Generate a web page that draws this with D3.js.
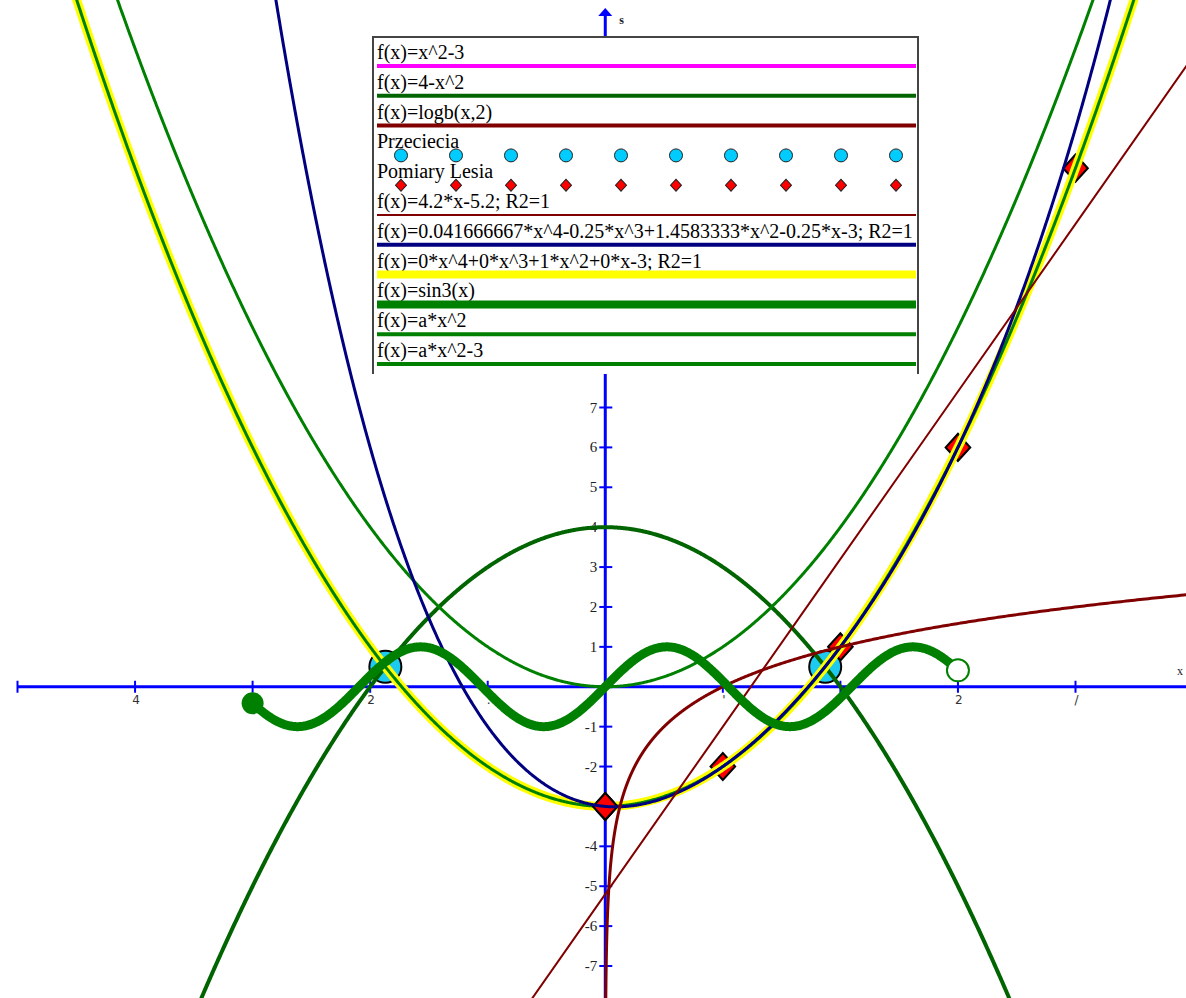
<!DOCTYPE html>
<html>
<head>
<meta charset="utf-8">
<script src="https://cdn.jsdelivr.net/npm/d3@7"></script>
<style>
  html, body { margin: 0; padding: 0; background: #ffffff; }
  svg { display: block; }
</style>
</head>
<body>
<svg id="chart" width="1186" height="998"></svg>
<script>
// ---------------- data ----------------
const legendLabels = [
  "f(x)=x^2-3",
  "f(x)=4-x^2",
  "f(x)=logb(x,2)",
  "Przeciecia",
  "Pomiary Lesia",
  "f(x)=4.2*x-5.2; R2=1",
  "f(x)=0.041666667*x^4-0.25*x^3+1.4583333*x^2-0.25*x-3; R2=1",
  "f(x)=0*x^4+0*x^3+1*x^2+0*x-3; R2=1",
  "f(x)=sin3(x)",
  "f(x)=a*x^2",
  "f(x)=a*x^2-3"
];
const legendColors = ["#ff00ff", "#006400", "#800000", "#00ccff", "#ff0000", "#800000", "#000080", "#ffff00", "#008000", "#008000", "#008000"];
const legendWidths = [4, 4, 4, 0, 0, 2, 4, 8, 8, 4, 4];

// measurement points "Pomiary Lesia"
const pomiaryX = [0, 1, 2, 3, 4];
const pomiaryY = [-3, -2, 1, 6, 13];
// intersections "Przeciecia" (x^2-3 = 4-x^2)
const przecieciaX = [-1.8708, 1.8708];
const przecieciaY = [0.5, 0.5];
// polynomial coefficients (highest power first)
const parabolaCoeffs = [1, 0, -3];            // x^2-3
const invParabolaCoeffs = [-1, 0, 4];         // 4-x^2
const linearCoeffs = [4.2, -5.2];             // 4.2x-5.2
const quarticCoeffs = [0.041666667, -0.25, 1.4583333, -0.25, -3];
const yellowCoeffs = [0, 0, 1, 0, -3];
const aParam = [1];                           // a
const sinFactor = [3];                        // sin(3x)
const sinRange = [-3, 3];
const logBase = [2];

const xTickValues = [-5, -4, -3, -2, -1, 1, 2, 3, 4];
const xTickLabels = ["", "4", "", "2", ".", "'", "", "2", "/"];
const yTickValues = [7, 6, 5, 4, 3, 2, 1, -1, -2, -3, -4, -5, -6, -7];
const yTickLabels = ["7", "6", "5", "4", "3", "2", "1", "-1", "-2", "", "-4", "-5", "-6", "-7"];

// ---------------- setup ----------------
const W = 1186, H = 998;
const svg = d3.select("#chart");
const x = d3.scaleLinear().domain([-5, 4]).range([17.5, 1075.5]);
const y = d3.scaleLinear().domain([7, -7]).range([407.5, 966]);
const X0 = x(0), Y0 = y(0);

function poly(c) { return v => c.reduce((acc, k) => acc * v + k, 0); }
function sample(f, a, b, n) {
  const pts = [];
  for (let i = 0; i <= n; i++) {
    const v = a + (b - a) * i / n;
    const w = f(v);
    if (isFinite(w) && w < 40 && w > -40) pts.push([v, w]);
  }
  return pts;
}
const line = d3.line().x(d => x(d[0])).y(d => y(d[1]));
const xMin = x.invert(-10), xMax = x.invert(W + 10);

// ---------------- axes ----------------
const axisG = svg.append("g");
axisG.append("line").attr("x1", x(-5)).attr("x2", W + 5).attr("y1", Y0).attr("y2", Y0)
  .attr("stroke", "#0000ff").attr("stroke-width", 3);
axisG.append("line").attr("x1", X0).attr("x2", X0).attr("y1", 15).attr("y2", H + 5)
  .attr("stroke", "#0000ff").attr("stroke-width", 3);
axisG.append("path")
  .attr("d", `M${X0},8 L${X0 - 7},16 L${X0 + 7},16 Z`).attr("fill", "#0000ff");
axisG.append("text").attr("x", X0 + 14).attr("y", 24).text("s")
  .attr("font-family", "Liberation Serif").attr("font-weight", "bold").attr("font-size", 12).attr("fill", "#222");
axisG.append("text").attr("x", W - 9).attr("y", 675).text("x")
  .attr("font-family", "Liberation Serif").attr("font-size", 12).attr("fill", "#222");

xTickValues.forEach((v, i) => {
  axisG.append("line").attr("x1", x(v)).attr("x2", x(v)).attr("y1", Y0 - 6).attr("y2", Y0 + 6)
    .attr("stroke", "#0000ff").attr("stroke-width", 2);
  axisG.append("text").attr("x", x(v) + 1).attr("y", Y0 + 17).attr("text-anchor", "middle")
    .attr("font-family", "DejaVu Sans").attr("font-size", 12).attr("fill", "#333").text(xTickLabels[i]);
});
yTickValues.forEach((v, i) => {
  axisG.append("line").attr("x1", X0 - 6).attr("x2", X0 + 7).attr("y1", y(v)).attr("y2", y(v))
    .attr("stroke", "#0000ff").attr("stroke-width", 2);
  axisG.append("text").attr("x", X0 - 8).attr("y", y(v) + 5).attr("text-anchor", "end")
    .attr("font-family", "Liberation Serif").attr("font-size", 15).attr("fill", "#222").text(yTickLabels[i]);
});

// ---------------- marks ----------------
const g = svg.append("g");
function drawCurve(pts, color, width) {
  g.append("path").datum(pts).attr("d", line).attr("fill", "none")
    .attr("stroke", color).attr("stroke-width", width).attr("stroke-linejoin", "round").attr("stroke-linecap", "round");
}

// intersection circles
przecieciaX.forEach((v, i) => {
  g.append("circle").attr("cx", x(v)).attr("cy", y(przecieciaY[i])).attr("r", 16)
    .attr("fill", "#1ecbf0").attr("stroke", "#000").attr("stroke-width", 2);
});

// measurement diamonds (mostly beneath the curves)
const diamond = d3.symbol().type(d3.symbolSquare).size(300);
function addDiamond(px, py) {
  g.append("path").attr("d", diamond)
    .attr("transform", `translate(${px},${py}) scale(1,1.1) rotate(45)`)
    .attr("fill", "#ff0000").attr("stroke", "#000").attr("stroke-width", 2);
}
pomiaryX.forEach((v, i) => addDiamond(x(v), y(pomiaryY[i])));

// x^2-3 (magenta, under yellow)
drawCurve(sample(poly(parabolaCoeffs), xMin, xMax, 1500), legendColors[0], 4);
// 4-x^2
drawCurve(sample(poly(invParabolaCoeffs), xMin, xMax, 1500), legendColors[1], 4);
// regression quadratic (yellow)
drawCurve(sample(poly(yellowCoeffs), xMin, xMax, 1500), legendColors[7], 9);
// a*x^2-3
drawCurve(sample(v => aParam[0] * v * v - 3, xMin, xMax, 1500), legendColors[10], 3);

// the vertex measurement lies on top of the parabola
addDiamond(x(pomiaryX[0]), y(pomiaryY[0]));

// a*x^2
drawCurve(sample(v => aParam[0] * v * v, xMin, xMax, 1500), legendColors[9], 3);
// quartic
drawCurve(sample(poly(quarticCoeffs), xMin, xMax, 1500), legendColors[6], 3);
// linear regression
drawCurve(sample(poly(linearCoeffs), xMin, xMax, 10), legendColors[5], 2);
// log base 2 (sampled geometrically)
(function () {
  const pts = [];
  for (let i = 0; i <= 1500; i++) {
    const v = Math.pow(2, -9 + (Math.log2(xMax) + 9) * i / 1500);
    pts.push([v, Math.log(v) / Math.log(logBase[0])]);
  }
  drawCurve(pts, legendColors[2], 3);
})();
// sin(3x)
drawCurve(sample(v => Math.sin(sinFactor[0] * v), sinRange[0], sinRange[1], 800), legendColors[8], 9);
g.append("circle").attr("cx", x(sinRange[0])).attr("cy", y(Math.sin(sinFactor[0] * sinRange[0])))
  .attr("r", 11).attr("fill", "#008000");
g.append("circle").attr("cx", x(sinRange[1])).attr("cy", y(Math.sin(sinFactor[0] * sinRange[1])))
  .attr("r", 11).attr("fill", "#ffffff").attr("stroke", "#008000").attr("stroke-width", 2);

// ---------------- legend ----------------
const L = { x0: 373, x1: 918, y0: 37, y1: 374 };
const lg = svg.append("g");
lg.append("rect").attr("x", L.x0).attr("y", L.y0).attr("width", L.x1 - L.x0).attr("height", L.y1 - L.y0)
  .attr("fill", "#ffffff");
lg.append("path").attr("d", `M${L.x0},${L.y1} L${L.x0},${L.y0} L${L.x1},${L.y0} L${L.x1},${L.y1}`)
  .attr("fill", "none").attr("stroke", "#444").attr("stroke-width", 2);

const markerXs = d3.range(10).map(i => 401 + i * 55);
legendLabels.forEach((lab, i) => {
  const base = 59 + i * 29.8;
  lg.append("text").attr("x", 377).attr("y", base).text(lab)
    .attr("font-family", "Liberation Serif").attr("font-size", 20).attr("fill", "#000");
  const ly = base + 7;
  if (legendWidths[i] > 0) {
    lg.append("line").attr("x1", 377).attr("x2", 916).attr("y1", ly).attr("y2", ly)
      .attr("stroke", legendColors[i]).attr("stroke-width", legendWidths[i]);
  } else if (i === 3) {
    markerXs.forEach(mx => lg.append("circle").attr("cx", mx).attr("cy", ly).attr("r", 6.5)
      .attr("fill", "#00ccff").attr("stroke", "#222").attr("stroke-width", 1));
  } else {
    const dm = d3.symbol().type(d3.symbolSquare).size(60);
    markerXs.forEach(mx => lg.append("path").attr("d", dm)
      .attr("transform", `translate(${mx},${ly}) scale(1,1.1) rotate(45)`)
      .attr("fill", "#ff0000").attr("stroke", "#222").attr("stroke-width", 1));
  }
});
</script>
</body>
</html>
